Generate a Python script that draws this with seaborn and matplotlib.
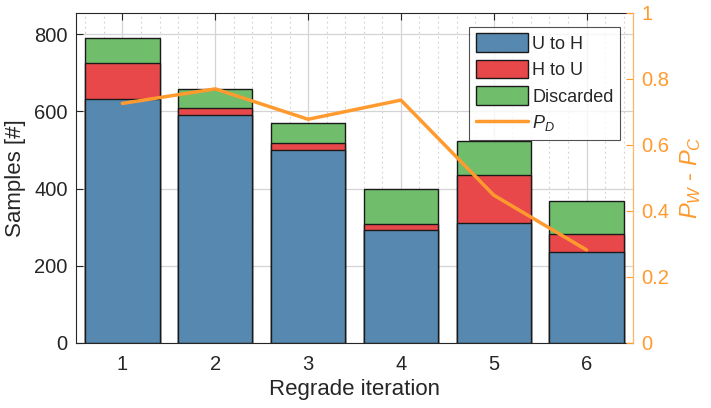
import numpy as np
import pandas as pd
import matplotlib
matplotlib.use("Agg")
import matplotlib.pyplot as plt
from matplotlib.patches import Patch
from matplotlib.lines import Line2D
from matplotlib.ticker import MultipleLocator
import seaborn as sns

iterations = [1, 2, 3, 4, 5, 6]
u_to_h = [632, 590, 501, 292, 310, 235]
h_to_u = [94, 20, 17, 17, 125, 47]
discarded = [64, 47, 51, 90, 88, 86]
p_d = [0.726, 0.770, 0.678, 0.736, 0.448, 0.282]

labels = ["U to H", "H to U", "Discarded"]
colors = ["#5789b0", "#e8484a", "#70bd6c"]
orange = "#ff9a2e"

sns.set_style("white")
plt.rcParams['font.family'] = ['Liberation Sans', 'DejaVu Sans']
plt.rcParams['mathtext.fontset'] = 'custom'
plt.rcParams['mathtext.it'] = 'Liberation Sans:italic'
plt.rcParams['mathtext.rm'] = 'Liberation Sans'

df = pd.DataFrame({
    "it": iterations,
    "u": u_to_h,
    "uh": np.array(u_to_h) + np.array(h_to_u),
    "tot": np.array(u_to_h) + np.array(h_to_u) + np.array(discarded),
    "pd": p_d,
})

fig = plt.figure(figsize=(7.11, 4.08), dpi=100)
ax = fig.add_axes([76/711, 65/408, 557/711, 330/408])

for col, c in zip(["tot", "uh", "u"], colors[::-1]):
    sns.barplot(data=df, x="it", y=col, native_scale=True, color=c,
                saturation=1, width=0.8, edgecolor="#1a1a1a", linewidth=1.0,
                ax=ax, zorder=2)

ax.set_xlim(0.5, 6.5)
ax.set_ylim(0, 855)
ax.set_xticks(iterations)
ax.set_xticklabels([str(i) for i in iterations])
ax.set_yticks([0, 200, 400, 600, 800])
ax.xaxis.set_minor_locator(MultipleLocator(0.2))
ax.set_axisbelow(True)
ax.grid(True, which="major", axis="both", color="#d4d4d4", linewidth=0.9, linestyle="-")
ax.grid(True, which="minor", axis="x", color="#cfcfcf", linewidth=0.8, linestyle=(0, (1.5, 3)))
ax.tick_params(axis="both", which="major", direction="in", length=5, width=0.8,
               labelsize=14.5, colors="#262626", top=True)
ax.tick_params(axis="x", which="minor", length=0)
ax.tick_params(axis="x", pad=9)
ax.tick_params(axis="y", pad=6)
ax.set_xlabel("Regrade iteration", fontsize=16, color="#262626", labelpad=3)
ax.set_ylabel("Samples [#]", fontsize=16, color="#262626", labelpad=6)
for s in ["left", "bottom", "top"]:
    ax.spines[s].set_color("#262626")
    ax.spines[s].set_linewidth(0.8)
ax.spines["right"].set_visible(False)

ax2 = ax.twinx()
sns.lineplot(data=df, x="it", y="pd", color=orange, linewidth=2.5, ax=ax2, zorder=5)
ax2.set_ylim(0, 1)
ax2.set_yticks([0, 0.2, 0.4, 0.6, 0.8, 1])
ax2.set_yticklabels(["0", "0.2", "0.4", "0.6", "0.8", "1"])
ax2.tick_params(axis="y", direction="in", length=5, width=0.8, labelsize=14.5,
                colors=orange, pad=6)
ax2.spines["right"].set_color("#ffb366")
ax2.spines["right"].set_linewidth(0.9)
for s in ["left", "bottom", "top"]:
    ax2.spines[s].set_visible(False)
ax2.set_ylabel("$P_W$ - $P_C$", fontsize=17, color=orange, labelpad=6)
ax2.set_xlabel("")

handles = [Patch(facecolor=c, edgecolor="#1a1a1a", linewidth=1.0) for c in colors]
handles.append(Line2D([0], [0], color=orange, linewidth=2.5))
leg = ax2.legend(handles, labels + ["$P_D$"], loc="upper right",
                 bbox_to_anchor=(0.977, 0.958), borderaxespad=0, fontsize=13,
                 frameon=True, fancybox=False, edgecolor="#262626",
                 handlelength=2.9, handleheight=1.2, handletextpad=0.25,
                 labelspacing=0.4, borderpad=0.35)
leg.get_frame().set_linewidth(0.8)
leg.set_zorder(10)

fig.savefig("out.png", dpi=100)
